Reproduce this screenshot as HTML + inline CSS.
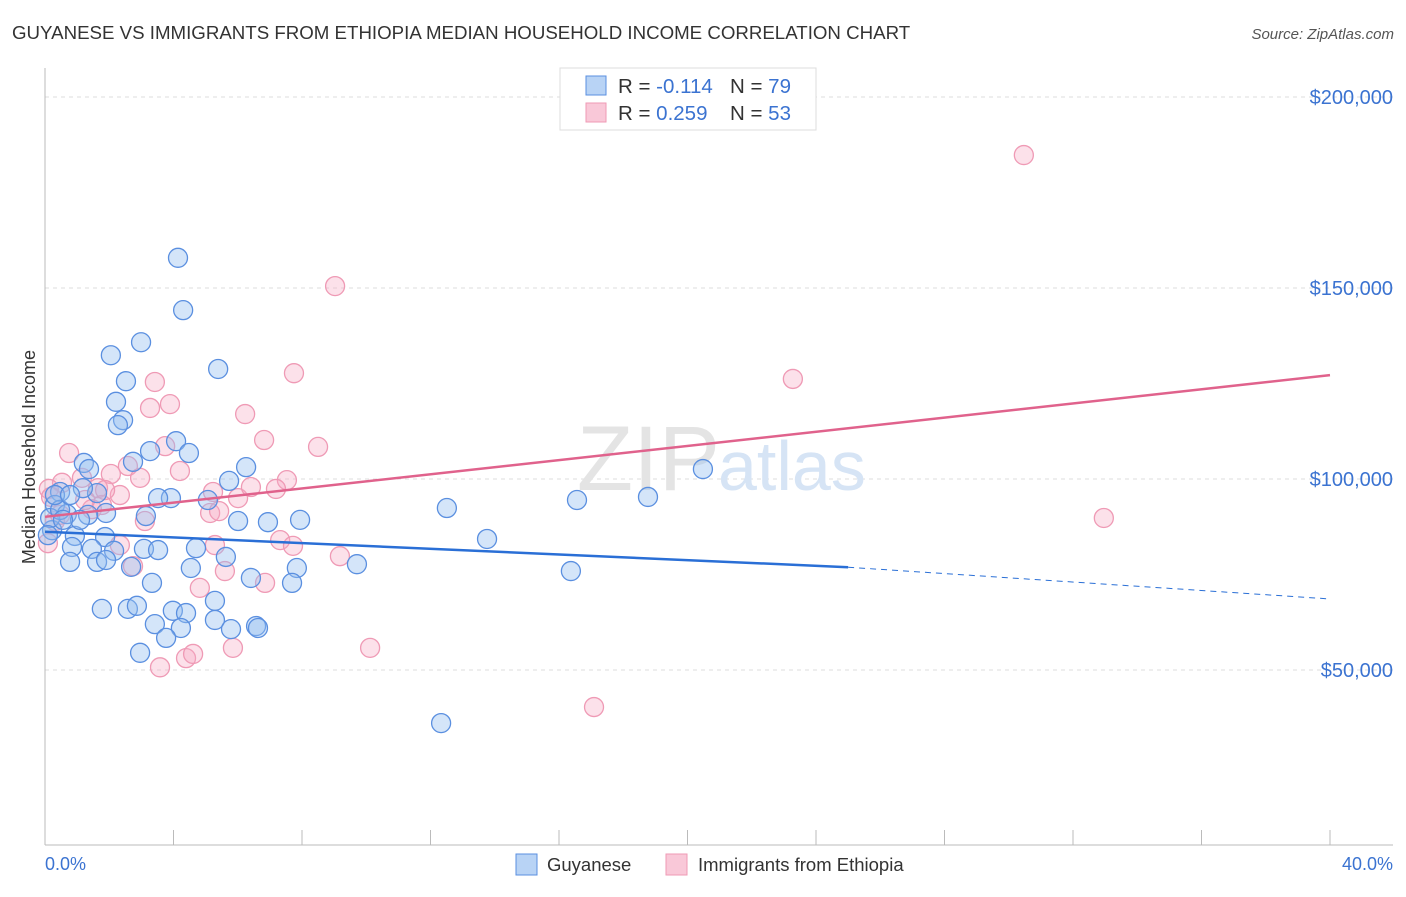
<!DOCTYPE html>
<html><head><meta charset="utf-8"><style>
body{margin:0;background:#fff;font-family:"Liberation Sans",sans-serif;}
svg text{font-family:"Liberation Sans",sans-serif;}
</style></head><body>
<svg id="chart" width="1406" height="892" xmlns="http://www.w3.org/2000/svg">
<text x="12" y="39" font-size="18.7" fill="#333">GUYANESE VS IMMIGRANTS FROM ETHIOPIA MEDIAN HOUSEHOLD INCOME CORRELATION CHART</text>
<text x="1394" y="39" font-size="15" fill="#555" font-style="italic" text-anchor="end">Source: ZipAtlas.com</text>
<g id="grid"></g>
<text x="720" y="490" font-size="92" font-family="Liberation Serif" fill="#e4e4e4" text-anchor="end">ZIP</text>
<text x="718" y="490" font-size="70" fill="#d6e4f5">atlas</text>
<line x1="45" y1="68" x2="45" y2="845" stroke="#bbb"/>
<line x1="45" y1="845" x2="1393" y2="845" stroke="#bbb"/>
<g id="ticks"></g>
<text x="35" y="457" font-size="18" fill="#333" text-anchor="middle" transform="rotate(-90 35 457)">Median Household Income</text>
<text x="45" y="870" font-size="18" fill="#3b73d1">0.0%</text>
<text x="1393" y="870" font-size="18" fill="#3b73d1" text-anchor="end">40.0%</text>
<g id="pink"></g>
<g id="blue"></g>
<g id="lines"></g>
<g>
<rect x="560" y="68" width="256" height="62" fill="#fff" stroke="#ddd"/>
<rect x="586" y="76" width="20" height="19" fill="#b8d3f5" stroke="#5a8fe0"/>
<rect x="586" y="103" width="20" height="19" fill="#f9c8d8" stroke="#ef9ab5"/>
<text x="618" y="93" font-size="20.5" fill="#333">R = <tspan fill="#3b73d1">-0.114</tspan></text>
<text x="730" y="93" font-size="20.5" fill="#333">N = <tspan fill="#3b73d1">79</tspan></text>
<text x="618" y="120" font-size="20.5" fill="#333">R = <tspan fill="#3b73d1"> 0.259</tspan></text>
<text x="730" y="120" font-size="20.5" fill="#333">N = <tspan fill="#3b73d1">53</tspan></text>
</g>
<g>
<rect x="516" y="854" width="21" height="21" fill="#b8d3f5" stroke="#5a8fe0"/>
<text x="547" y="871" font-size="18.5" fill="#333">Guyanese</text>
<rect x="666" y="854" width="21" height="21" fill="#f9c8d8" stroke="#ef9ab5"/>
<text x="698" y="871" font-size="18.5" fill="#333">Immigrants from Ethiopia</text>
</g>
</svg>
<script>
const yTicks=[50000,100000,150000,200000];
const yTickLabels=["$50,000","$100,000","$150,000","$200,000"];
const xTicks=[0,4,8,12,16,20,24,28,32,36,40];
const blueX=[4.14,4.30,2.99,2.05,5.39,2.52,2.21,2.43,2.27,4.08,3.27,4.48,1.21,2.74,1.37,6.26,5.73,20.48,0.47,1.62,1.18,5.07,3.92,3.52,16.56,18.77,12.51,0.31,0.68,1.90,3.14,6.01,6.94,7.94,0.22,13.76,1.87,0.93,0.84,1.46,2.15,3.08,3.52,4.70,5.63,9.71,1.62,0.78,2.68,4.54,7.84,16.37,6.41,7.69,3.33,1.77,2.58,2.86,3.98,4.39,5.29,5.29,3.42,5.79,6.57,6.63,4.23,3.77,2.96,12.33,0.16,0.47,0.09,0.31,0.78,1.34,1.90,1.09,0.56];
const blueY=[157.9,144.2,135.8,132.4,128.8,125.6,120.2,115.4,114.1,109.9,107.3,106.8,104.2,104.5,102.6,103.1,99.5,102.6,96.6,96.3,97.6,94.5,95.0,95.0,94.5,95.3,92.4,93.2,90.8,91.1,90.3,89.0,88.7,89.3,86.6,84.3,84.8,85.1,82.2,81.7,81.2,81.7,81.4,81.9,79.6,77.7,78.3,78.3,77.0,76.7,76.7,75.9,74.1,72.8,72.8,66.0,66.0,66.8,65.5,64.9,68.1,63.1,62.0,60.7,61.5,61.0,61.0,58.4,54.5,36.1,89.8,91.9,85.3,95.8,95.8,90.6,78.8,89.3,89.3];
const pinkX=[30.47,9.03,7.75,23.28,3.42,3.27,3.89,6.23,6.82,8.50,0.75,3.74,4.20,2.58,7.53,2.05,0.53,1.15,0.12,6.01,1.65,2.96,0.19,6.41,7.19,5.23,5.14,5.42,1.46,1.77,3.11,32.96,0.31,2.33,5.29,7.32,7.72,9.18,2.74,5.60,6.85,4.82,10.12,5.85,4.39,4.61,3.58,17.09,0.09,1.25,0.47,2.33,1.87];
const pinkY=[184.8,150.5,127.7,126.2,125.4,118.6,119.6,117.0,110.2,108.4,106.8,108.6,102.1,103.4,99.7,101.3,99.0,100.3,97.4,95.0,97.6,100.3,95.3,97.9,97.4,96.6,91.1,91.6,92.1,93.2,89.0,89.8,89.0,82.7,82.7,84.0,82.5,79.8,77.2,75.9,72.8,71.5,55.8,55.8,53.1,54.2,50.7,40.3,83.2,94.5,90.6,95.8,97.1];
const blueTrend=[86.2,76.9,68.6]; // at x=0, 25, 40
const pinkTrend=[90.1,127.2]; // at x=0, 40
const NS="http://www.w3.org/2000/svg";
const X=p=>45+p*32.125;
const Y=v=>479-(v-100)*3.82;
function mk(tag,attrs,parent){const e=document.createElementNS(NS,tag);for(const k in attrs)e.setAttribute(k,attrs[k]);parent.appendChild(e);return e;}
const grid=document.getElementById('grid');
yTicks.forEach((t,i)=>{
  const y=Y(t/1000);
  const l=mk('line',{x1:45,x2:1393,y1:y,y2:y,stroke:'#ddd','stroke-dasharray':'4,4'},grid);
  
  
  const tx=mk('text',{x:1393,y:y+7,'font-size':20,fill:'#3b73d1','text-anchor':'end'},grid);
  tx.textContent=yTickLabels[i];
  
  
});
const ticks=document.getElementById('ticks');
xTicks.forEach(t=>{
  const l=mk('line',{x1:X(t),x2:X(t),y1:830,y2:845,stroke:'#bbb'},ticks);
  
  
});
const pink=document.getElementById('pink');
pinkX.forEach((x,i)=>{
  const c=mk('circle',{cx:X(x),cy:Y(pinkY[i]),r:9.5,fill:'rgba(245,170,195,0.35)',stroke:'#ef9ab5','stroke-width':1.3},pink);
  
  
});
const blue=document.getElementById('blue');
blueX.forEach((x,i)=>{
  const c=mk('circle',{cx:X(x),cy:Y(blueY[i]),r:9.5,fill:'rgba(147,190,240,0.4)',stroke:'#5a8fe0','stroke-width':1.3},blue);
  
  
});
const lines=document.getElementById('lines');
const bl=mk('line',{x1:X(0),y1:Y(blueTrend[0]),x2:X(25),y2:Y(blueTrend[1]),stroke:'#2a6fd6','stroke-width':2.5},lines);


const bd=mk('line',{x1:X(25),y1:Y(blueTrend[1]),x2:X(40),y2:Y(blueTrend[2]),stroke:'#2a6fd6','stroke-width':1,'stroke-dasharray':'6,5'},lines);


const pl=mk('line',{x1:X(0),y1:Y(pinkTrend[0]),x2:X(40),y2:Y(pinkTrend[1]),stroke:'#e0628c','stroke-width':2.5},lines);


</script>
</body></html>
